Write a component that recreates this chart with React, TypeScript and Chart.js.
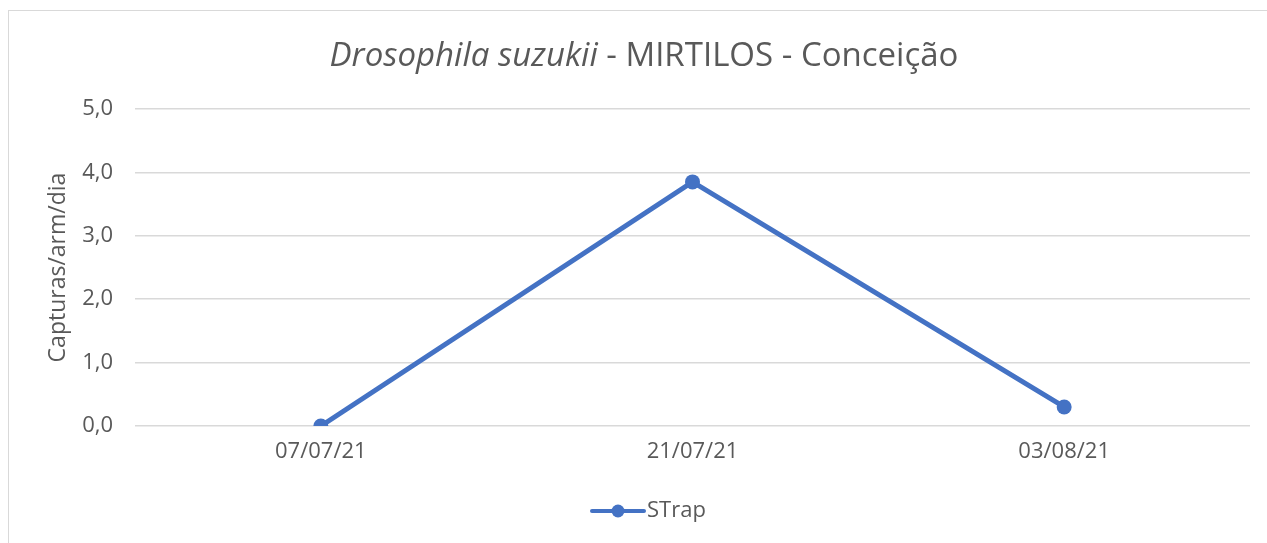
import React, { useEffect, useRef } from "react";
import { Chart, registerables } from "chart.js";

Chart.register(...registerables);

const categories = ["07/07/21", "21/07/21", "03/08/21"];
const strapValues = [0, 3.85, 0.3];
const seriesName = "STrap";
const titleItalic = "Drosophila suzukii";
const titleRest = " - MIRTILOS - Conceição";
const yTitle = "Capturas/arm/dia";

const BLUE = "#4472C4";
const TEXT = "#595959";
const FONT = "'Open Sans'";

const customPlugin = {
  id: "customTitleLegend",
  afterDraw(chart: any) {
    const ctx = chart.ctx;
    ctx.save();
    // Title
    ctx.fillStyle = TEXT;
    ctx.textBaseline = "alphabetic";
    ctx.textAlign = "left";
    const italicFont = `italic 33px ${FONT}`;
    const normalFont = `33px ${FONT}`;
    ctx.font = italicFont;
    const w1 = ctx.measureText(titleItalic).width;
    ctx.font = normalFont;
    const w2 = ctx.measureText(titleRest).width;
    const cx = 644;
    const startX = cx - (w1 + w2) / 2;
    ctx.font = italicFont;
    ctx.fillText(titleItalic, startX, 66);
    ctx.font = normalFont;
    ctx.fillText(titleRest, startX + w1, 66);

    // Legend
    const ly = 511;
    ctx.strokeStyle = BLUE;
    ctx.lineWidth = 4;
    ctx.lineCap = "round";
    ctx.beginPath();
    ctx.moveTo(592, ly);
    ctx.lineTo(644, ly);
    ctx.stroke();
    ctx.fillStyle = BLUE;
    ctx.beginPath();
    ctx.arc(618, ly, 6.5, 0, Math.PI * 2);
    ctx.fill();
    ctx.fillStyle = TEXT;
    ctx.font = `22px ${FONT}`;
    ctx.textBaseline = "middle";
    ctx.fillText(seriesName, 647, ly);
    ctx.restore();
  },
};

export default function App() {
  const canvasRef = useRef<HTMLCanvasElement | null>(null);

  useEffect(() => {
    if (!canvasRef.current) return;
    const chart = new Chart(canvasRef.current, {
      type: "line",
      data: {
        labels: categories,
        datasets: [
          {
            label: seriesName,
            data: strapValues,
            borderColor: BLUE,
            backgroundColor: BLUE,
            borderWidth: 5,
            pointRadius: 7.5,
            pointHoverRadius: 7.5,
            pointBackgroundColor: BLUE,
            pointBorderWidth: 0,
            tension: 0,
          },
        ],
      },
      options: {
        responsive: false,
        animation: false,
        layout: { padding: { left: 0, right: 17, top: 109, bottom: 0 } },
        plugins: {
          legend: { display: false },
          title: { display: false },
          tooltip: { enabled: false },
        },
        scales: {
          x: {
            type: "category",
            offset: true,
            grid: { display: false, drawTicks: false },
            border: { display: false },
            ticks: {
              color: TEXT,
              font: { family: FONT, size: 22 },
              padding: 13,
              maxRotation: 0,
            },
            afterFit: (scale: any) => {
              scale.height = 117;
            },
          },
          y: {
            min: 0,
            max: 5,
            grid: { color: "#d9d9d9", lineWidth: 1.5, drawTicks: false },
            border: { display: false },
            ticks: {
              stepSize: 1,
              color: TEXT,
              font: { family: FONT, size: 22 },
              padding: 22,
              callback: (v: any) => Number(v).toFixed(1).replace(".", ","),
            },
            title: {
              display: true,
              text: yTitle,
              color: TEXT,
              font: { family: FONT, size: 23 },
              padding: { top: 45, bottom: 0 },
            },
            afterFit: (scale: any) => {
              scale.width = 135;
            },
          },
        },
      },
      plugins: [customPlugin],
    });
    return () => chart.destroy();
  }, []);

  return (
    <>
      <div
        style={{
          position: "fixed",
          left: 8,
          top: 10,
          width: 1400,
          height: 700,
          border: "1px solid #d9d9d9",
          boxSizing: "border-box",
        }}
      />
      <canvas
        ref={canvasRef}
        width={1267}
        height={543}
        style={{ position: "fixed", left: 0, top: 0, width: 1267, height: 543 }}
      />
    </>
  );
}
